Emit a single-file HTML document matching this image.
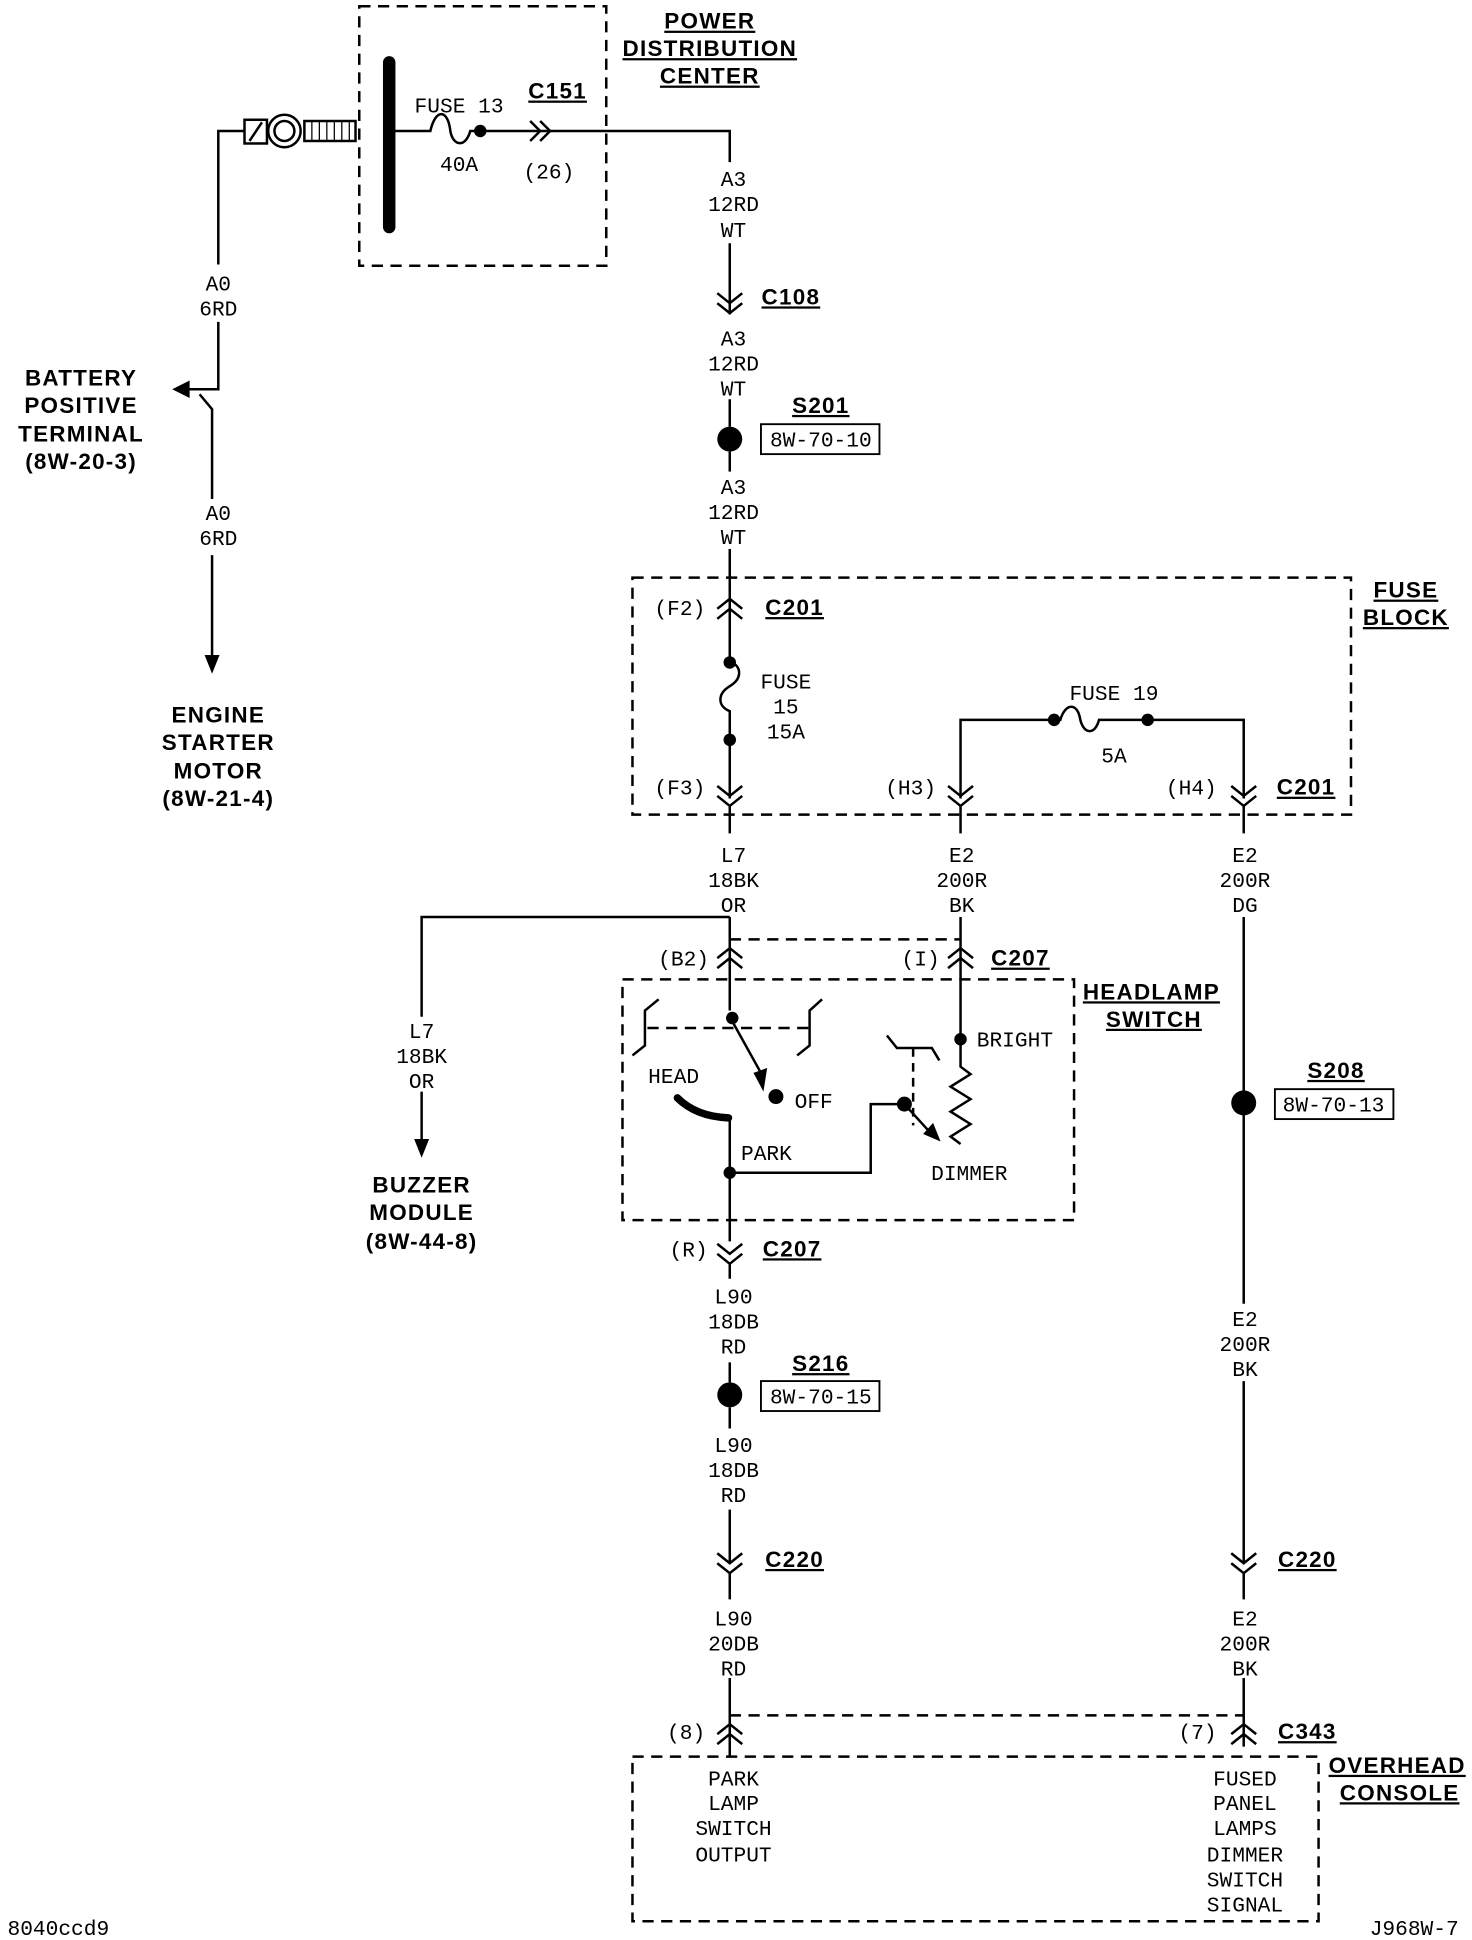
<!DOCTYPE html>
<html><head><meta charset="utf-8"><style>
html,body{margin:0;padding:0;background:#fff;}
svg{display:block;}
.t{font-family:"Liberation Mono","DejaVu Sans Mono",monospace;font-size:17px;fill:#000;text-anchor:middle;}
.b{font-family:"Liberation Sans",sans-serif;font-weight:bold;font-size:18px;fill:#000;text-anchor:middle;letter-spacing:1px;}
.u{text-decoration:underline;}
.l{text-anchor:start;}
</style></head><body>
<svg width="1472" height="1940" viewBox="0 0 1180 1555" preserveAspectRatio="none" xmlns="http://www.w3.org/2000/svg">
<g fill="none" stroke="#000" stroke-width="2">
<rect x="288" y="5" width="198" height="208" stroke-dasharray="9,6"/>
<rect x="507" y="463" width="576" height="190" stroke-dasharray="9,6"/>
<rect x="499" y="785" width="362" height="193" stroke-dasharray="9,6"/>
<rect x="507" y="1408" width="550" height="132" stroke-dasharray="9,6"/>
<line x1="585" y1="753" x2="770" y2="753" stroke-dasharray="9,6"/>
<line x1="585" y1="1375" x2="997" y2="1375" stroke-dasharray="9,6"/>
<line x1="519" y1="824" x2="649" y2="824" stroke-dasharray="9,6"/>
<line x1="732" y1="840" x2="732" y2="902" stroke-dasharray="7,5"/>

<line x1="312" y1="50" x2="312" y2="182" stroke-width="10" stroke-linecap="round"/>
<rect x="196" y="96" width="18" height="19"/>
<line x1="200" y1="113" x2="210" y2="98"/>
<circle cx="228" cy="105" r="13"/><circle cx="228" cy="105" r="8"/>
<rect x="244" y="97" width="41" height="16"/>
<path d="M250 97v16M256 97v16M262 97v16M268 97v16M274 97v16M280 97v16" stroke-width="1"/>
<path d="M175 212V105H196"/>
<path d="M175 258V312H150M160 316L170 328V400"/>
<path d="M170 445V530"/>
<path d="M312 105H345c4-18 14-18 16 0c2 12 12 14 16 0H585V130"/>
<path d="M425 97l8 8-8 8M433 97l8 8-8 8"/>
<path d="M585 195V252"/>
<path d="M575 235l10 8 10-8M575 243l10 8 10-8"/>
<path d="M585 320V342"/><path d="M585 362V378"/>
<path d="M585 440V495"/>
<path d="M575 488l10-8 10 8M575 496l10-8 10 8"/>
<path d="M585 495V530c10 4 10 14 0 20c-10 6-10 16 0 20V640"/>
<path d="M575 630l10 8 10-8M575 638l10 8 10-8"/>
<path d="M585 646V668"/>
<path d="M770 640V577H850c4-14 14-14 16 0c3 12 12 12 15 0H997V640"/>
<path d="M760 630l10 8 10-8M760 638l10 8 10-8"/>
<path d="M987 630l10 8 10-8M987 638l10 8 10-8"/>
<path d="M770 646V668M997 646V668"/>
<path d="M585 735V810M585 735H338V815"/>
<path d="M338 875V920"/>
<path d="M575 768l10-8 10 8M575 776l10-8 10 8"/>
<path d="M770 735V855l8 6-16 10 16 10-16 10 16 10-16 10 8 6"/>
<path d="M760 768l10-8 10 8M760 776l10-8 10 8"/>
<path d="M997 735V1045M997 1107V1253M997 1345V1400"/>
<path d="M528 801L517 810V838L507 846"/>
<path d="M659 801L649 810V838L639 846"/>
<path d="M711 830L719 840H747L753 850"/>
<line x1="585" y1="815" x2="610" y2="860"/>
<path d="M543 880Q558 895 584 896" stroke-width="6" stroke-linecap="round"/>
<path d="M585 896V995"/>
<path d="M585 940H698V885H725L745 907"/>
<path d="M575 997l10 8 10-8M575 1005l10 8 10-8"/>
<path d="M585 1013V1025M585 1092V1108M585 1128V1145"/>
<path d="M585 1210V1252"/>
<path d="M575 1245l10 8 10-8M575 1253l10 8 10-8"/>
<path d="M987 1245l10 8 10-8M987 1253l10 8 10-8"/>
<path d="M585 1261V1282M997 1261V1282"/>
<path d="M585 1345V1408"/>
<path d="M575 1390l10-8 10 8M575 1398l10-8 10 8"/>
<path d="M987 1390l10-8 10 8M987 1398l10-8 10 8"/>
</g>
<g fill="#000">
<circle cx="385" cy="105" r="5"/>
<circle cx="585" cy="352" r="10"/>
<circle cx="585" cy="531" r="5"/><circle cx="585" cy="593" r="5"/>
<circle cx="845" cy="577" r="5"/><circle cx="920" cy="577" r="5"/>
<circle cx="997" cy="884" r="10"/>
<circle cx="585" cy="1118" r="10"/>
<circle cx="587" cy="816" r="5"/><circle cx="622" cy="879" r="6"/>
<circle cx="770" cy="833" r="5"/>
<circle cx="585" cy="940" r="5"/><circle cx="725" cy="885" r="6"/>
<polygon points="138,312 152,305 152,319"/>
<polygon points="612,875 604,860 615,856"/>
<polygon points="754,915 740,909 748,900"/>
<polygon points="170,540 164,525 176,525"/>
<polygon points="338,928 332,913 344,913"/>
</g>
<g fill="none" stroke="#000" stroke-width="1.5">
<rect x="610" y="340" width="95" height="24"/>
<rect x="1022" y="873" width="95" height="24"/>
<rect x="610" y="1107" width="95" height="24"/>
</g>
<text class="b u" x="569" y="23">POWER</text>
<text class="b u" x="569" y="45">DISTRIBUTION</text>
<text class="b u" x="569" y="67">CENTER</text>
<text class="b u" x="447" y="79">C151</text>
<text class="b u" x="634" y="244">C108</text>
<text class="b u" x="658" y="331">S201</text>
<text class="b u" x="637" y="493">C201</text>
<text class="b u" x="1047" y="637">C201</text>
<text class="b u" x="1127" y="479">FUSE</text>
<text class="b u" x="1127" y="501">BLOCK</text>
<text class="b u" x="818" y="774">C207</text>
<text class="b u" x="923" y="801">HEADLAMP</text>
<text class="b u" x="925" y="823">SWITCH</text>
<text class="b u" x="1071" y="864">S208</text>
<text class="b u" x="635" y="1007">C207</text>
<text class="b u" x="658" y="1099">S216</text>
<text class="b u" x="637" y="1256">C220</text>
<text class="b u" x="1048" y="1256">C220</text>
<text class="b u" x="1048" y="1394">C343</text>
<text class="b u" x="1120" y="1421">OVERHEAD</text>
<text class="b u" x="1122" y="1443">CONSOLE</text>
<text class="b" x="65" y="309">BATTERY</text>
<text class="b" x="65" y="331">POSITIVE</text>
<text class="b" x="65" y="354">TERMINAL</text>
<text class="b" x="65" y="376">(8W-20-3)</text>
<text class="b" x="175" y="579">ENGINE</text>
<text class="b" x="175" y="601">STARTER</text>
<text class="b" x="175" y="624">MOTOR</text>
<text class="b" x="175" y="646">(8W-21-4)</text>
<text class="b" x="338" y="956">BUZZER</text>
<text class="b" x="338" y="978">MODULE</text>
<text class="b" x="338" y="1001">(8W-44-8)</text>
<g class="t">
<text x="368" y="90">FUSE 13</text><text x="368" y="137">40A</text><text x="440" y="143">(26)</text>
<text x="175" y="233">A0</text><text x="175" y="253">6RD</text>
<text x="175" y="417">A0</text><text x="175" y="437">6RD</text>
<text x="588" y="149">A3</text><text x="588" y="169">12RD</text><text x="588" y="190">WT</text>
<text x="588" y="277">A3</text><text x="588" y="297">12RD</text><text x="588" y="317">WT</text>
<text x="658" y="358">8W-70-10</text>
<text x="588" y="396">A3</text><text x="588" y="416">12RD</text><text x="588" y="436">WT</text>
<text x="545" y="493">(F2)</text><text x="545" y="637">(F3)</text>
<text x="630" y="552">FUSE</text><text x="630" y="572">15</text><text x="630" y="592">15A</text>
<text x="893" y="561">FUSE 19</text><text x="893" y="611">5A</text>
<text x="730" y="637">(H3)</text><text x="955" y="637">(H4)</text>
<text x="588" y="691">L7</text><text x="588" y="711">18BK</text><text x="588" y="731">OR</text>
<text x="771" y="691">E2</text><text x="771" y="711">200R</text><text x="771" y="731">BK</text>
<text x="998" y="691">E2</text><text x="998" y="711">200R</text><text x="998" y="731">DG</text>
<text x="548" y="774">(B2)</text><text x="738" y="774">(I)</text>
<text x="338" y="832">L7</text><text x="338" y="852">18BK</text><text x="338" y="872">OR</text>
<text class="t l" x="783" y="839">BRIGHT</text>
<text x="540" y="868">HEAD</text>
<text class="t l" x="637" y="888">OFF</text>
<text class="t l" x="594" y="930">PARK</text>
<text x="777" y="946">DIMMER</text>
<text x="1069" y="891">8W-70-13</text>
<text x="552" y="1007">(R)</text>
<text x="588" y="1045">L90</text><text x="588" y="1065">18DB</text><text x="588" y="1085">RD</text>
<text x="658" y="1125">8W-70-15</text>
<text x="588" y="1164">L90</text><text x="588" y="1184">18DB</text><text x="588" y="1204">RD</text>
<text x="998" y="1063">E2</text><text x="998" y="1083">200R</text><text x="998" y="1103">BK</text>
<text x="588" y="1303">L90</text><text x="588" y="1323">20DB</text><text x="588" y="1343">RD</text>
<text x="998" y="1303">E2</text><text x="998" y="1323">200R</text><text x="998" y="1343">BK</text>
<text x="550" y="1394">(8)</text><text x="960" y="1394">(7)</text>
<text x="588" y="1431">PARK</text><text x="588" y="1451">LAMP</text><text x="588" y="1471">SWITCH</text><text x="588" y="1492">OUTPUT</text>
<text x="998" y="1431">FUSED</text><text x="998" y="1451">PANEL</text><text x="998" y="1471">LAMPS</text><text x="998" y="1492">DIMMER</text><text x="998" y="1512">SWITCH</text><text x="998" y="1532">SIGNAL</text>
<text class="t l" x="6" y="1551">8040ccd9</text>
<text class="t l" x="1098" y="1551">J968W-7</text>
</g>
</svg>
</body></html>
